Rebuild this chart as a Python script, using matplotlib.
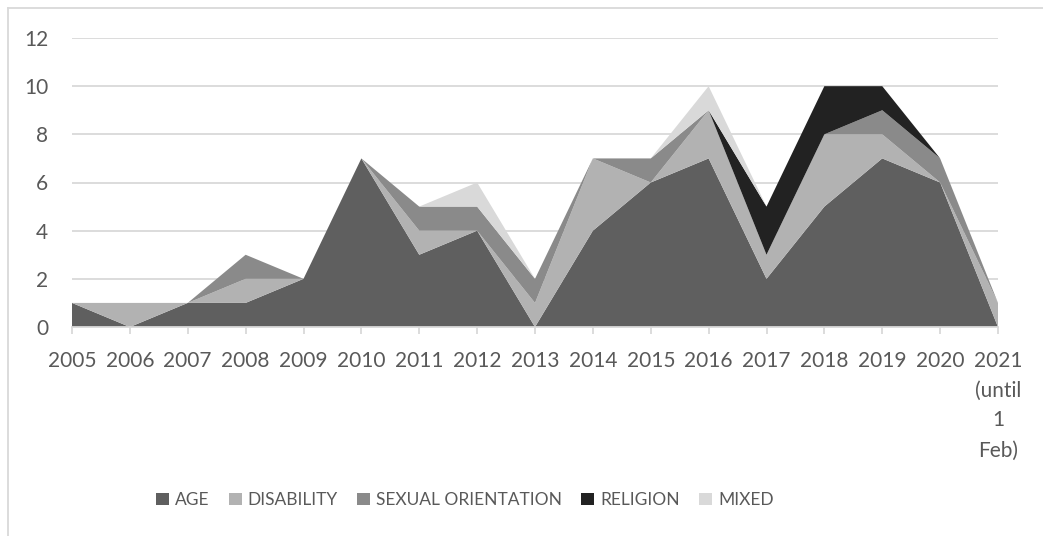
import matplotlib.pyplot as plt
from matplotlib.lines import Line2D
from matplotlib.patches import Patch

# dados
anos = ["2005", "2006", "2007", "2008", "2009", "2010", "2011", "2012", "2013",
        "2014", "2015", "2016", "2017", "2018", "2019", "2020", "2021\n(until\n1\nFeb)"]
age = [1, 0, 1, 1, 2, 7, 3, 4, 0, 4, 6, 7, 2, 5, 7, 6, 0]
disability = [0, 1, 0, 1, 0, 0, 1, 0, 1, 3, 0, 2, 1, 3, 1, 0, 1]
sexual_orientation = [0, 0, 0, 1, 0, 0, 1, 1, 1, 0, 1, 0, 0, 0, 1, 1, 0]
religion = [0, 0, 0, 0, 0, 0, 0, 0, 0, 0, 0, 0, 2, 2, 1, 0, 0]
mixed = [0, 0, 0, 0, 0, 0, 0, 1, 0, 0, 0, 1, 0, 0, 0, 0, 0]

nomes = ["AGE", "DISABILITY", "SEXUAL ORIENTATION", "RELIGION", "MIXED"]
cores = ["#5f5f5f", "#b2b2b2", "#8a8a8a", "#222222", "#d9d9d9"]

plt.rcParams["font.family"] = ["Lato", "DejaVu Sans"]
cor_texto = "#595959"
cor_grade = "#d9d9d9"

fig = plt.figure(figsize=(10.43, 5.36), dpi=100)
ax = fig.add_axes([72/1043, 1-327/536, (998-72)/1043, (327-38)/536])

x = list(range(len(anos)))
ax.stackplot(x, age, disability, sexual_orientation, religion, mixed,
             colors=cores, linewidth=0, zorder=3)

ax.set_xlim(0, len(anos)-1)
ax.set_ylim(0, 12)
ax.set_yticks(range(0, 13, 2))
ax.set_xticks(x)
ax.set_xticklabels(anos, linespacing=1.62)

ax.grid(axis="y", color=cor_grade, linewidth=1.3, zorder=0)
for lado in ["top", "right", "left"]:
    ax.spines[lado].set_visible(False)
ax.spines["bottom"].set_color(cor_grade)
ax.spines["bottom"].set_linewidth(1.3)
ax.spines["bottom"].set_zorder(4)

ax.tick_params(axis="y", length=0, pad=17, labelsize=15, labelcolor=cor_texto)
ax.tick_params(axis="x", length=5, width=1.3, color=cor_grade, pad=12,
               labelsize=15, labelcolor=cor_texto)
for t in ax.get_xticklabels():
    t.set_verticalalignment("top")

# legenda
handles = [Patch(facecolor=c, edgecolor="none") for c in cores]
fig.legend(handles, nomes, loc="center", bbox_to_anchor=(465/1043, 1-500/536),
           ncol=5, frameon=False, labelcolor=cor_texto, fontsize=12.5,
           handlelength=0.75, handleheight=0.75, handletextpad=0.35, columnspacing=1.1)

# borda do gráfico
fig.add_artist(Line2D([8/1043, 8/1043], [0, 1-8/536], color=cor_grade, linewidth=1.3))
fig.add_artist(Line2D([8/1043, 1], [1-8/536, 1-8/536], color=cor_grade, linewidth=1.3))

plt.savefig("out.png", dpi=100)
